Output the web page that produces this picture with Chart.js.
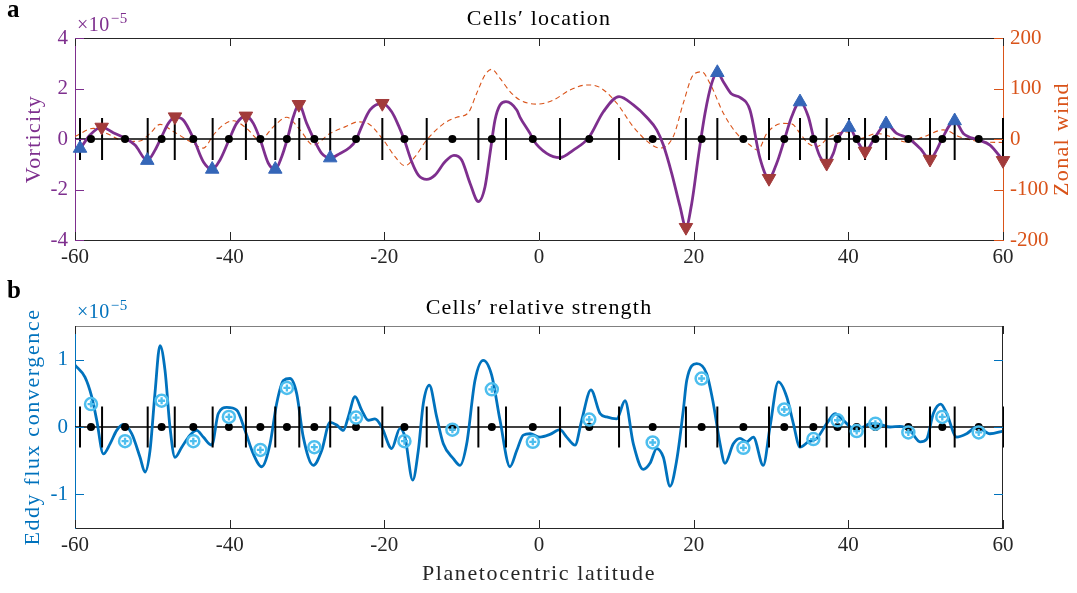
<!DOCTYPE html>
<html>
<head>
<meta charset="utf-8">
<script src="https://cdn.jsdelivr.net/npm/chart.js@4"></script>
<style>
    html, body { margin: 0; padding: 0; background: #fff; }
    #wrap { position: relative; width: 1077px; height: 593px; }
    canvas { position: absolute; left: 0; }
    #topChart { top: 0; }
    #botChart { top: 275px; }
</style>
</head>
<body>
<div id="wrap">
    <canvas id="topChart" width="1077" height="275"></canvas>
    <canvas id="botChart" width="1077" height="318"></canvas>
</div>
<script>
// ---- data (latitude in degrees, vorticity / eddy flux in units of 1e-5) ----
const boundaryLat = [-59.35, -56.5, -50.6, -47.1, -42.2, -37.9, -34.1, -31.0, -27.0, -20.26, -14.52, -7.84, -4.27,
    2.72, 10.35, 19.0, 23.06, 29.74, 33.75, 37.2, 40.09, 42.16, 44.88, 50.56, 53.75, 60.0];
const centreLat = [-57.93, -53.53, -48.8, -44.7, -40.1, -36.03, -32.6, -29.05, -23.66, -17.4, -11.2, -6.1, -0.8,
    6.5, 14.7, 21.03, 26.43, 31.72, 35.48, 38.6, 41.08, 43.5, 47.76, 52.15, 56.86];
const strengthVal = [0.34, -0.21, 0.39, -0.21, 0.15, -0.34, 0.58, -0.3, 0.14, -0.21, -0.04, 0.56, -0.22,
    0.11, -0.23, 0.72, -0.31, 0.26, -0.18, 0.1, -0.06, 0.05, -0.08, 0.15, -0.08];

const vortLat = [-60, -59.35, -58.06, -56.55, -55.05, -53.53, -52.24, -50.65, -49.65, -48.8, -47.93, -47.07, -46.0,
    -44.7, -43.41, -42.26, -41.25, -40.09, -39.1, -37.9, -36.94, -36.03, -35.0, -34.1, -33.27, -32.58, -31.77,
    -31.05, -30.04, -29.05, -28.1, -27.0, -25.73, -24.44, -23.66, -22.93, -21.85, -20.26, -19.05, -18.19, -17.41,
    -16.46, -15.6, -14.52, -13.45, -12.15, -11.0, -10.0, -8.92, -7.84, -6.98, -6.33, -5.69, -5.04, -4.27, -2.88,
    -2.45, -1.16, -0.74, 0.99, 2.72, 4.44, 6.47, 8.32, 10.35, 12.2, 13.93, 15.22, 16.08, 17.16, 18.24, 19.0, 19.75,
    20.6, 21.47, 22.33, 23.06, 23.83, 24.91, 25.99, 27.28, 28.57, 29.74, 30.74, 31.72, 32.67, 33.75, 34.83, 35.48,
    36.34, 37.2, 38.06, 38.6, 40.09, 41.08, 42.16, 43.5, 44.88, 46.25, 47.76, 49.27, 50.56, 51.42, 52.15, 53.75,
    54.87, 56.86, 58.32, 60];
const vortVal = [-0.5, -0.37, 0.16, 0.47, 0.25, 0.03, -0.24, -0.85, -0.44, 0.09, 0.62, 0.88, 0.75,
    0.03, -0.9, -1.2, -0.83, -0.04, 0.62, 0.91, 0.62, -0.04, -0.96, -1.2, -0.7, -0.04, 0.88,
    1.37, 0.62, -0.04, -0.57, -0.75, -0.57, -0.33, -0.04, 0.49, 1.15, 1.41, 1.08, 0.55, -0.04,
    -0.9, -1.43, -1.6, -1.43, -0.9, -0.65, -0.83, -1.75, -2.48, -1.89, -0.57, 0.75, 1.35, 1.48, 1.15,
    0.86, 0.22, -0.04, -0.57, -0.74, -0.44, 0.07, 1.08, 1.68, 1.35, 0.86, 0.36, -0.24, -1.36, -2.68, -3.5, -2.55,
    -0.7, 1.02, 2.2, 2.63, 2.27, 1.78, 1.65, 1.15, -0.76, -1.56, -0.96, -0.04, 0.88, 1.47, 0.88, 0.09,
    -0.7, -0.96, -0.57, -0.04, 0.46, -0.04, -0.48, 0.09, 0.6, 0.22, 0.03, -0.37, -0.8, -0.44, 0.03, 0.72,
    0.22, -0.04, -0.24, -0.85];

const upLat = [-59.35, -50.65, -42.26, -34.1, -27.0, 23.06, 33.75, 40.09, 44.88, 53.75];
const upVal = [-0.37, -0.85, -1.2, -1.2, -0.75, 2.63, 1.47, 0.46, 0.6, 0.72];
const downLat = [-56.55, -47.07, -37.9, -31.05, -20.26, 19.0, 29.74, 37.2, 42.16, 50.56, 60.0];
const downVal = [0.47, 0.88, 0.91, 1.37, 1.41, -3.5, -1.56, -0.96, -0.48, -0.8, -0.85];

const windLat = [-60, -57.63, -55.9, -53.3, -51.6, -50.3, -49.0, -47.29, -45.13, -43.41, -42.1, -40.82, -39.53,
    -37.8, -36.08, -34.36, -32.63, -30.9, -29.18, -27.03, -25.09, -23.37, -22.28, -20.13, -18.62, -17.33, -16.03,
    -14.52, -12.37, -10.64, -9.14, -8.07, -6.98, -6.11, -5.04, -3.75, -2.45, -0.29, 1.85, 4.01, 6.17, 7.89, 10.05,
    12.2, 14.35, 15.65, 17.37, 18.66, 19.95, 21.04, 22.11, 23.84, 25.56, 27.28, 28.3, 29.45, 31.6, 32.68, 33.75,
    34.83, 35.91, 37.63, 39.79, 41.51, 43.67, 45.39, 47.55, 49.7, 52.29, 54.44, 57.03, 60];
const windVal = [5, 21, 11, -5, -4, 11, 29, 15, -5, -18, 8, 28, 36,
    21, -2, 24, 43, 18, -12, 11, 24, 34, 32, -2, -35, -53, -35,
    -2, 30, 43, 52, 90, 127, 138, 120, 94, 77, 69, 77, 97, 107, 102, 71,
    24, -9, -18, 5, 71, 127, 133, 110, 51, 11, -12, -22, 11, 31, 30, 11,
    -9, -15, 5, 14, 1, 11, 5, -6, 4, 18, 4, -5, -7];

const eddyLat = [-60, -58.71, -57.84, -57.19, -56.34, -55.47, -54.61, -53.75, -52.67, -51.59, -50.95, -50.3, -49.66,
    -49.01, -48.36, -47.72, -47.07, -46.2, -45.13, -44.26, -43.41, -42.32, -41.47, -40.38, -39.09, -38.02, -36.94,
    -35.86, -34.78, -33.92, -33.06, -32.2, -31.34, -30.48, -29.18, -28.1, -27.03, -26.16, -25.3, -24.66, -23.79,
    -22.93, -22.07, -21.21, -20.34, -19.05, -17.97, -17.33, -16.33, -15.61, -14.96, -14.18, -13.23, -12.37, -11.08,
    -10.21, -9.35, -8.28, -7.2, -6.12, -5.04, -3.75, -2.88, -2.03, -1.16, 0.13, 1.42, 2.72, 3.58, 4.66, 5.52, 6.72,
    7.89, 8.75, 10.05, 11.12, 12.2, 13.49, 14.35, 15.22, 16.08, 16.94, 17.81, 18.66, 19.1, 20.39, 21.68, 22.54,
    23.41, 24.05, 25.13, 25.99, 26.85, 27.71, 29.0, 29.87, 30.95, 32.03, 32.89, 33.75, 34.83, 35.91, 37.2, 38.28,
    39.35, 40.64, 41.94, 42.8, 44.1, 45.39, 46.68, 47.97, 49.27, 50.13, 50.99, 51.94, 52.72, 54.01, 55.3, 56.6,
    58.32, 60];
const eddyVal = [0.92, 0.74, 0.45, 0.1, -0.4, -0.25, -0.05, 0.04, -0.1, -0.45, -0.67, -0.35, 0.5,
    1.21, 0.84, 0, -0.45, -0.3, -0.12, -0.05, -0.15, -0.27, 0.2, 0.29, 0.25, -0.05, -0.4,
    -0.59, -0.25, 0.35, 0.69, 0.72, 0.5, -0.15, -0.57, -0.35, 0.07, 0.03, -0.05, 0.15, 0.45,
    0.25, 0.1, 0.12, 0, -0.32, -0.02, -0.15, -0.79, -0.35, 0.35, 0.62, 0.15, -0.25, -0.47,
    -0.57, -0.25, 0.69, 0.99, 0.77, 0.1, -0.59, -0.35, -0.12, -0.1, -0.15, -0.11, -0.04, -0.15, -0.27, 0.1, 0.55,
    0.2, 0.15, 0.12, 0.39, -0.25, -0.63, -0.54, -0.32, -0.45, -0.88, -0.49, 0.25, 0.69, 0.94, 0.79, 0.35,
    -0.25, -0.54, -0.25, -0.17, -0.22, -0.15, -0.57, 0, 0.67, 0.45, 0.05, -0.3, -0.22, -0.17, 0.05, 0.2,
    0.1, -0.02, 0, 0.05, 0.04, 0, 0.01, -0.05, -0.22, -0.18, 0.2, 0.34, 0.2, -0.15, -0.1, 0,
    -0.1, -0.06];

const latTicks = [-60, -40, -20, 0, 20, 40, 60];
const vortTicks = [-4, -2, 0, 2, 4];
const windTicks = [-200, -100, 0, 100, 200];
const eddyTicks = [-1, 0, 1];

// ---- style ----
const PURPLE = "#7E2F8E";
const ORANGE = "#D95319";
const BLUE = "#0072BD";
const LIGHTBLUE = "#4DBEEE";
const AXIS = "#262626";
const SERIF = '"Liberation Serif", "DejaVu Serif", serif';

const pts = (xs, ys) => xs.map((x, i) => ({ x: x, y: ys[i] }));

function seg(ctx, x0, y0, x1, y1) {
    ctx.beginPath();
    ctx.moveTo(x0, y0);
    ctx.lineTo(x1, y1);
    ctx.stroke();
}

// frame, inward ticks and all free text
const decor = {
    id: "decor",
    afterDraw(chart, args, o) {
        const { ctx, chartArea: a, scales } = chart;
        ctx.save();
        ctx.lineWidth = 1;
        ctx.strokeStyle = o.topColor;
        seg(ctx, a.left, a.top + 0.5, a.right, a.top + 0.5);
        if (o.rightColor) {
            ctx.strokeStyle = o.rightColor;
            seg(ctx, a.right - 0.5, a.top, a.right - 0.5, a.bottom);
        }
        ctx.strokeStyle = AXIS;
        latTicks.forEach((v) => {
            const px = Math.round(scales.x.getPixelForValue(v)) + 0.5;
            seg(ctx, px, a.bottom, px, a.bottom - 8);
            seg(ctx, px, a.top, px, a.top + 8);
        });
        o.yTicks.forEach((t) => {
            const s = scales[t.id];
            ctx.strokeStyle = t.color;
            s.ticks.forEach((tk) => {
                const py = Math.round(s.getPixelForValue(tk.value)) + 0.5;
                if (t.left) seg(ctx, a.left, py, a.left + 9, py);
                if (t.right) seg(ctx, a.right, py, a.right - 9, py);
            });
        });
        o.texts.forEach((t) => {
            ctx.save();
            ctx.font = t.font;
            ctx.fillStyle = t.color;
            ctx.letterSpacing = t.spacing || "0px";
            ctx.textAlign = t.align || "center";
            ctx.textBaseline = t.baseline || "alphabetic";
            ctx.translate(t.x, t.y);
            if (t.rotate) ctx.rotate(t.rotate);
            ctx.fillText(t.text, 0, 0);
            if (t.sup) {
                const w = ctx.measureText(t.text).width;
                ctx.font = t.supFont;
                ctx.fillText(t.sup, w + 1, -8);
            }
            ctx.restore();
        });
        ctx.restore();
    },
};

function xScale(height) {
    return {
        type: "linear",
        min: -60,
        max: 60,
        afterFit: (s) => { s.height = height; },
        afterBuildTicks: (s) => { s.ticks = latTicks.map((v) => ({ value: v })); },
        ticks: { color: AXIS, padding: 5, font: { family: SERIF, size: 21 } },
        grid: { display: true, drawOnChartArea: false, drawTicks: false },
        border: { color: AXIS, width: 1 },
    };
}

function yScale(pos, min, max, tickVals, color, width) {
    return {
        type: "linear",
        position: pos,
        min: min,
        max: max,
        afterFit: (s) => { s.width = width; },
        afterBuildTicks: (s) => { s.ticks = tickVals.map((v) => ({ value: v })); },
        ticks: { color: color, padding: 7, font: { family: SERIF, size: 21 } },
        grid: { display: true, drawOnChartArea: false, drawTicks: false },
        border: { color: color, width: 1 },
    };
}

const common = {
    responsive: false,
    animation: false,
    events: [],
    plugins: { legend: { display: false }, tooltip: { enabled: false } },
};

// ---- a: cells' location ----
new Chart(document.getElementById("topChart"), {
    type: "line",
    data: {
        datasets: [
            {
                data: pts(upLat, upVal), showLine: false, clip: false, order: 0,
                pointStyle: "triangle", pointRadius: 7.8, backgroundColor: "#3566B8", borderColor: "#3566B8", borderWidth: 1,
            },
            {
                data: pts(downLat, downVal), showLine: false, clip: false, order: 0,
                pointStyle: "triangle", pointRotation: 180, pointRadius: 7.8, backgroundColor: "#A23B3B", borderColor: "#A23B3B", borderWidth: 1,
            },
            {
                data: centreLat.map((x) => ({ x: x, y: 0 })), showLine: false, order: 1,
                pointRadius: 4, backgroundColor: "#000", borderColor: "#000", borderWidth: 0,
            },
            {
                data: boundaryLat.map((x) => ({ x: x, y: 0 })), showLine: false, order: 2, clip: false,
                pointStyle: "line", pointRotation: 90, pointRadius: 21, borderColor: "#000", borderWidth: 2,
            },
            {
                data: pts(vortLat, vortVal), order: 3, cubicInterpolationMode: "monotone",
                borderColor: PURPLE, borderWidth: 2.8, pointRadius: 0,
            },
            {
                data: [{ x: -60, y: 0 }, { x: 60, y: 0 }], order: 4,
                borderColor: "#000", borderWidth: 1.5, pointRadius: 0,
            },
            {
                data: pts(windLat, windVal), yAxisID: "yR", order: 5, cubicInterpolationMode: "monotone",
                borderColor: ORANGE, borderWidth: 1.1, borderDash: [5, 3.5], pointRadius: 0,
            },
        ],
    },
    options: {
        ...common,
        layout: { padding: { top: 38, left: 0, right: 0, bottom: 0 } },
        scales: {
            x: xScale(35),
            y: yScale("left", -4, 4, vortTicks, PURPLE, 75),
            yR: yScale("right", -200, 200, windTicks, ORANGE, 74),
        },
        plugins: {
            ...common.plugins,
            decor: {
                topColor: AXIS,
                rightColor: null,
                yTicks: [{ id: "y", color: PURPLE, left: true }, { id: "yR", color: ORANGE, right: true }],
                texts: [
                    { text: "a", x: 7, y: 17, align: "left", font: "bold 25px " + SERIF, color: "#000" },
                    { text: "×10", sup: "−5", x: 77, y: 31, align: "left", font: "20px " + SERIF, supFont: "15px " + SERIF, color: PURPLE, spacing: "0.5px" },
                    { text: "Cells′ location", x: 539, y: 25, font: "22px " + SERIF, color: "#000", spacing: "1.2px" },
                    { text: "Vorticity", x: 34, y: 139, baseline: "middle", rotate: -Math.PI / 2, font: "22px " + SERIF, color: PURPLE, spacing: "1.3px" },
                    { text: "Zonal wind", x: 1062, y: 139, baseline: "middle", rotate: -Math.PI / 2, font: "22px " + SERIF, color: ORANGE, spacing: "1.3px" },
                ],
            },
        },
    },
    plugins: [decor],
});

// ---- b: cells' relative strength ----
new Chart(document.getElementById("botChart"), {
    type: "line",
    data: {
        datasets: [
            {
                data: pts(centreLat, strengthVal), showLine: false, order: 0,
                pointStyle: "cross", pointRadius: 3.5, borderColor: LIGHTBLUE, borderWidth: 2.3,
            },
            {
                data: pts(centreLat, strengthVal), showLine: false, order: 0,
                pointStyle: "circle", pointRadius: 6, backgroundColor: "rgba(0,0,0,0)", borderColor: LIGHTBLUE, borderWidth: 2.5,
            },
            {
                data: centreLat.map((x) => ({ x: x, y: 0 })), showLine: false, order: 1,
                pointRadius: 4, backgroundColor: "#000", borderColor: "#000", borderWidth: 0,
            },
            {
                data: boundaryLat.map((x) => ({ x: x, y: 0 })), showLine: false, order: 2, clip: false,
                pointStyle: "line", pointRotation: 90, pointRadius: 20.5, borderColor: "#000", borderWidth: 2,
            },
            {
                data: pts(eddyLat, eddyVal), order: 3, cubicInterpolationMode: "monotone",
                borderColor: BLUE, borderWidth: 2.8, pointRadius: 0,
            },
            {
                data: [{ x: -60, y: 0 }, { x: 60, y: 0 }], order: 4,
                borderColor: "#000", borderWidth: 1.5, pointRadius: 0,
            },
        ],
    },
    options: {
        ...common,
        layout: { padding: { top: 51, left: 0, right: 74, bottom: 0 } },
        scales: {
            x: xScale(65),
            y: yScale("left", -1.5, 1.5, eddyTicks, BLUE, 75),
        },
        plugins: {
            ...common.plugins,
            decor: {
                topColor: "#808080",
                rightColor: AXIS,
                yTicks: [{ id: "y", color: BLUE, left: true, right: true }],
                texts: [
                    { text: "b", x: 7, y: 23, align: "left", font: "bold 25px " + SERIF, color: "#000" },
                    { text: "×10", sup: "−5", x: 77, y: 43, align: "left", font: "20px " + SERIF, supFont: "15px " + SERIF, color: BLUE, spacing: "0.5px" },
                    { text: "Cells′ relative strength", x: 539, y: 39, font: "22px " + SERIF, color: "#000", spacing: "1.2px" },
                    { text: "Eddy flux convergence", x: 33, y: 152, baseline: "middle", rotate: -Math.PI / 2, font: "22px " + SERIF, color: BLUE, spacing: "1.6px" },
                    { text: "Planetocentric latitude", x: 539, y: 305, font: "22px " + SERIF, color: AXIS, spacing: "1.6px" },
                ],
            },
        },
    },
    plugins: [decor],
});
</script>
</body>
</html>
